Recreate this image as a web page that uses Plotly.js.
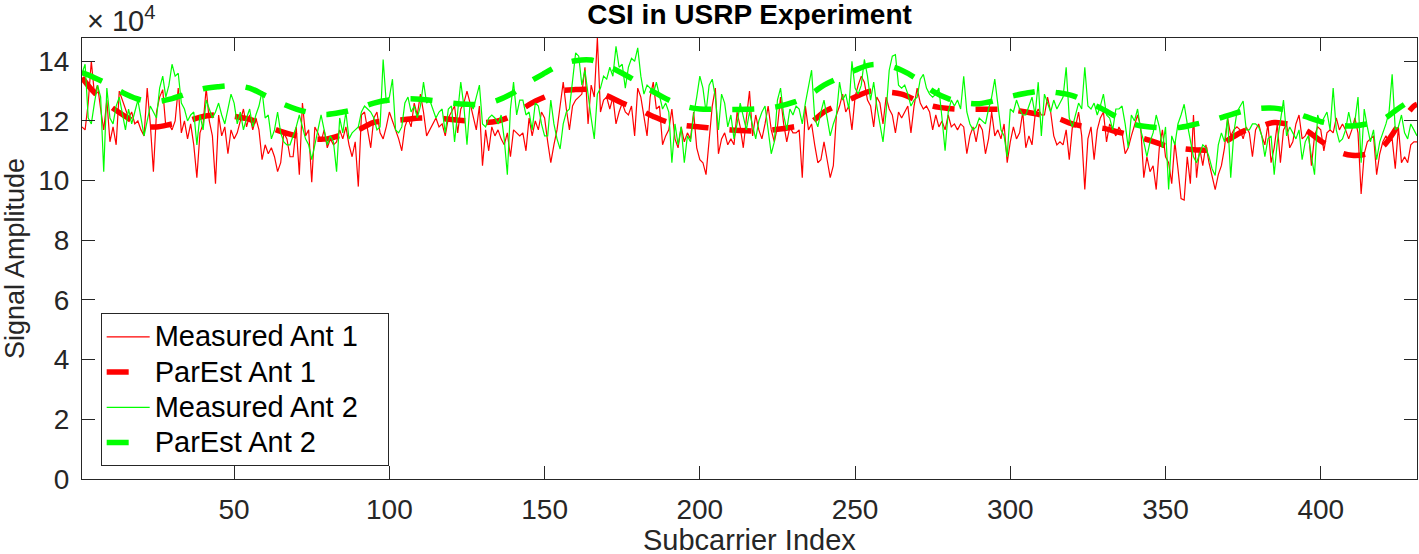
<!DOCTYPE html>
<html>
<head>
<meta charset="utf-8">
<script src="https://cdn.plot.ly/plotly-3.0.1.min.js"></script>
<style>html,body{margin:0;padding:0;background:#fff;}#chart{width:1419px;height:554px;}</style>
</head>
<body>
<div id="chart"></div>
<script>
// Signal amplitudes in units of 1e4 (axis shows x10^4)
const measuredAnt1 = [
11.8,11.7,12.6,14.0,12.9,13.2,12.4,11.7,12.7,11.3,
11.8,11.2,13.0,12.7,12.4,12.1,12.3,11.9,12.0,11.7,
11.5,13.1,11.9,10.3,12.3,12.8,13.05,11.8,11.9,11.7,
12.0,13.1,11.6,12.0,11.4,11.9,11.2,10.1,11.6,11.9,
13.1,12.0,11.5,9.9,12.2,11.5,11.8,10.9,11.7,11.4,
11.6,12.05,12.4,11.8,12.2,11.7,12.1,11.7,10.7,11.2,
10.9,11.1,10.8,10.3,10.6,11.6,11.4,10.8,10.8,11.8,
10.2,12.6,11.5,11.7,9.95,11.8,11.6,11.3,11.7,11.1,
11.4,11.2,11.3,11.7,11.4,11.8,11.2,10.8,11.3,9.8,
12.2,12.3,11.7,11.1,12.1,12.3,11.6,11.4,11.8,12.3,
12.0,11.7,11.4,11.0,11.8,12.1,11.8,12.6,12.2,12.9,
12.3,11.5,11.7,11.9,12.1,11.8,11.9,11.5,12.1,12.3,
12.5,11.6,12.4,12.6,13.0,12.6,12.1,11.7,12.5,10.5,
11.7,11.0,11.8,11.5,11.7,11.4,11.2,11.6,10.8,11.7,
11.6,11.5,11.6,11.0,12.1,11.5,12.0,11.7,12.3,12.1,
11.3,10.6,11.2,11.7,12.5,13.3,12.4,11.7,12.5,12.7,
12.8,12.9,13.8,11.9,13.2,12.8,14.78,12.3,12.7,12.8,
12.4,12.8,11.9,12.3,12.6,12.3,12.2,12.5,11.5,13.1,
12.8,12.2,11.5,12.8,13.3,12.4,12.5,11.2,11.5,11.7,
12.4,11.4,11.1,11.8,11.3,11.6,11.4,12.3,11.1,10.7,
10.6,10.2,11.4,12.5,13.1,10.9,11.4,11.6,11.2,11.4,
11.2,12.3,11.8,11.1,12.1,13.0,11.5,12.2,11.7,11.4,
11.9,12.5,11.7,11.3,11.8,12.8,11.9,11.3,11.8,11.6,
11.6,11.7,10.1,12.5,11.7,11.9,11.2,10.6,10.7,11.3,
10.7,10.1,10.5,12.2,12.5,12.9,12.3,12.5,11.7,12.8,
13.2,13.5,13.3,12.7,12.5,11.8,12.8,12.6,11.9,12.8,
12.4,12.2,11.6,12.3,12.1,12.3,12.5,11.6,12.5,13.1,
12.6,12.4,12.5,12.3,11.7,12.2,11.8,12.0,11.7,12.2,
11.8,11.9,11.7,11.9,11.8,10.9,11.5,11.8,11.3,11.9,
11.7,10.9,11.4,12.3,11.5,11.7,11.4,11.9,10.6,11.3,
11.8,11.4,11.6,12.3,11.1,11.5,11.2,12.2,12.4,12.2,
12.2,12.8,12.3,11.5,11.2,11.3,11.2,11.7,10.7,11.8,
11.8,12.3,11.5,9.7,11.4,11.8,10.7,11.7,12.1,12.3,
11.3,11.9,11.7,11.5,11.8,11.6,10.9,11.1,11.5,11.9,
12.2,11.8,10.1,10.8,10.3,10.5,9.7,11.1,11.7,10.8,
10.6,9.9,11.3,10.4,9.4,9.35,10.8,9.9,12.2,10.1,
11.1,10.5,11.2,10.6,10.2,9.7,10.2,10.5,11.1,12.1,
11.5,11.7,11.8,11.7,11.4,11.8,11.6,10.8,11.7,11.9,
11.5,11.2,11.9,10.6,11.1,11.9,10.6,11.7,11.9,11.1,
11.3,11.9,12.2,11.4,11.5,11.7,10.5,11.5,11.8,11.7,
11.0,11.6,11.7,11.6,12.1,11.7,11.9,11.7,11.4,11.7,
12.1,11.6,9.55,10.9,11.3,11.4,11.5,10.2,10.9,11.3,
11.5,11.3,11.4,10.4,11.8,10.6,10.8,10.6,11.2,11.3,11.3
];
const measuredAnt2 = [
13.6,13.9,12.1,11.9,12.6,13.2,12.8,10.3,13.1,12.1,
11.9,12.5,12.8,12.2,11.7,12.4,11.9,12.3,12.7,12.1,
11.5,12.0,12.5,12.3,12.1,13.1,13.5,12.8,13.2,13.9,
13.5,13.6,12.6,12.4,12.0,12.2,12.3,11.2,12.2,11.7,
12.7,12.4,12.1,12.3,12.6,12.2,11.9,12.4,12.9,12.6,
11.9,12.3,11.7,12.1,12.4,11.8,12.2,12.5,13.0,12.1,
12.2,11.4,11.7,12.3,11.6,11.3,11.2,11.2,11.5,11.8,
12.2,11.8,11.4,11.2,10.7,11.2,11.7,12.2,11.7,11.2,
11.5,11.3,10.3,12.1,11.6,12.3,11.4,11.6,11.7,11.8,
12.3,12.5,12.4,12.3,12.1,11.7,11.8,14.06,12.6,12.8,
13.4,11.7,11.6,11.8,12.6,12.8,12.3,12.5,12.1,12.5,
13.3,12.6,12.7,12.4,12.1,12.3,12.4,11.6,12.4,12.5,
11.3,12.3,13.3,12.5,11.2,12.6,12.4,12.8,13.2,11.9,
11.8,12.1,12.2,12.1,11.9,12.2,11.4,10.2,12.4,13.3,
12.2,12.7,12.7,12.2,12.3,11.7,12.6,12.5,11.9,11.5,
11.5,12.7,11.9,11.4,11.06,11.9,12.3,12.4,13.4,14.28,
14.17,13.2,13.7,12.8,12.1,11.4,12.9,13.1,13.5,13.4,
13.8,13.5,14.5,13.8,13.9,13.1,13.8,14.1,14.0,14.45,
13.5,12.9,13.2,13.1,12.9,13.3,12.8,12.4,12.6,12.3,
10.6,11.9,11.2,11.8,10.6,11.5,11.3,12.2,12.8,13.5,
13.1,12.3,13.2,13.4,12.8,11.7,12.9,12.6,11.8,12.2,
11.4,11.9,12.6,12.2,11.7,12.3,11.9,11.4,12.0,12.3,
12.5,11.7,10.9,11.3,12.7,13.1,12.2,11.7,12.4,12.2,
12.5,12.4,11.9,12.6,13.1,13.7,12.1,11.8,12.3,12.7,
12.1,11.5,11.9,12.2,13.3,12.7,12.9,12.4,14.0,13.1,
12.9,13.2,14.06,13.5,12.7,13.3,12.5,11.9,11.3,12.3,
13.7,14.17,14.22,13.2,13.1,13.2,12.9,12.5,12.7,12.8,
13.4,13.56,13.1,12.9,12.8,12.9,13.1,12.1,11.0,12.3,
12.7,12.5,12.7,12.4,13.5,12.3,11.9,11.7,11.8,12.1,
12.0,11.9,12.4,12.8,13.4,12.6,11.7,11.5,10.8,12.4,
12.3,12.7,12.4,12.2,12.2,12.5,12.8,12.2,13.3,11.5,
12.9,12.6,12.3,12.7,12.4,12.6,12.8,13.8,12.1,11.8,
12.2,12.6,12.4,13.8,12.5,12.4,12.6,12.2,12.5,12.9,
12.2,12.1,11.7,12.4,12.4,12.5,11.9,11.1,12.2,12.0,
12.4,11.7,11.3,10.8,11.3,11.6,12.2,11.8,11.1,11.8,
9.7,11.5,11.2,11.9,12.2,12.56,11.9,11.4,10.8,10.6,
10.9,11.2,11.1,10.8,10.4,10.17,11.2,11.6,11.3,12.1,
10.1,11.6,12.3,12.5,12.67,11.7,11.7,11.9,11.9,11.8,
11.5,10.8,11.4,11.5,10.2,11.3,12.0,12.7,11.5,11.8,
11.6,11.4,11.7,10.7,11.3,11.5,10.8,10.2,12.2,11.9,
12.1,12.3,11.7,13.1,11.7,11.3,11.4,11.7,12.3,11.8,
12.0,12.8,10.6,12.4,11.8,11.3,11.7,10.7,11.3,11.6,
11.9,12.3,13.56,11.7,11.8,12.2,11.6,11.4,11.9,11.7,11.5
];
const subcarrierIndex = measuredAnt1.map((_, i) => i + 1);

const parEstIndex = [1,5,10,15,20,25,30,35,40,45,50,55,60,65,70,75,80,85,90,95,100,105,110,115,120,125,130,135,140,145,150,155,160,165,170,175,180,185,190,195,200,205,210,215,220,225,230,235,240,245,250,255,260,265,270,275,280,285,290,295,300,305,310,315,320,325,330,335,340,345,350,355,360,365,370,375,380,385,390,395,400,405,410,415,420,425,430,431];
const parEstAnt1 = [13.45,12.95,12.5,12.15,11.85,11.8,11.9,12.0,12.15,12.2,12.15,12.05,11.85,11.65,11.5,11.4,11.4,11.55,11.7,11.95,12.0,12.05,12.1,12.1,12.05,12.0,11.95,12.0,12.2,12.55,12.8,13.0,13.05,13.05,12.85,12.6,12.4,12.15,11.95,11.85,11.8,11.75,11.7,11.67,11.67,11.72,11.8,11.9,12.3,12.55,12.8,13.0,12.97,12.9,12.68,12.5,12.42,12.39,12.39,12.39,12.38,12.3,12.2,12.1,11.9,11.8,11.75,11.62,11.5,11.35,11.17,11.08,11.03,11.05,11.35,11.65,11.8,11.95,11.88,11.7,11.33,11.0,10.85,10.9,11.15,11.85,12.5,12.56];
const parEstAnt2 = [13.62,13.45,13.2,12.9,12.7,12.65,12.75,12.92,13.08,13.15,13.18,13.1,12.85,12.6,12.4,12.27,12.22,12.3,12.42,12.6,12.7,12.74,12.73,12.67,12.6,12.56,12.56,12.7,12.95,13.3,13.6,13.88,14.02,14.04,13.85,13.6,13.3,12.98,12.7,12.5,12.4,12.39,12.38,12.39,12.42,12.48,12.62,12.85,13.2,13.45,13.7,13.88,13.86,13.7,13.4,13.0,12.75,12.62,12.58,12.68,12.82,12.93,13.0,12.95,12.85,12.62,12.38,12.1,11.88,11.8,11.77,11.79,11.9,12.02,12.18,12.33,12.42,12.43,12.33,12.15,11.98,11.87,11.83,11.9,12.05,12.42,12.75,12.8];

const xTicks = [50,100,150,200,250,300,350,400];
const yTicks = [0,2,4,6,8,10,12,14];
const seriesNames = ['Measured Ant 1','ParEst Ant 1','Measured Ant 2','ParEst Ant 2'];

const FONT = '"Liberation Sans", Arial, Helvetica, sans-serif';
const AX = '#262626';
// legend label: larger glyphs, compact rows; trailing spaces give the box its right padding
const legendLabel = s => '<span style="font-size:29px">' + s + '\u00a0\u00a0\u00a0</span>';

const traces = [
  {x: subcarrierIndex, y: measuredAnt1, name: legendLabel(seriesNames[0]), type: 'scatter', mode: 'lines', line: {color: '#ff0000', width: 1.2}},
  {x: parEstIndex, y: parEstAnt1, name: legendLabel(seriesNames[1]), type: 'scatter', mode: 'lines', line: {color: '#ff0000', width: 5.5, dash: '22px,21px', shape: 'spline'}},
  {x: subcarrierIndex, y: measuredAnt2, name: legendLabel(seriesNames[2]), type: 'scatter', mode: 'lines', line: {color: '#00ff00', width: 1.2}},
  {x: parEstIndex, y: parEstAnt2, name: legendLabel(seriesNames[3]), type: 'scatter', mode: 'lines', line: {color: '#00ff00', width: 5.5, dash: '22px,21px', shape: 'spline'}}
];

const layout = {
  width: 1419, height: 554,
  margin: {l: 82, r: 2, t: 38, b: 75, pad: 0},
  paper_bgcolor: '#ffffff', plot_bgcolor: '#ffffff',
  font: {family: FONT, size: 28, color: AX},
  showlegend: true,
  title: {text: '<b>CSI in USRP Experiment</b>', x: 0.5, xref: 'paper', xanchor: 'center', y: 1 - 14/554, yref: 'container', yanchor: 'middle', font: {family: FONT, size: 28, color: '#000000'}},
  xaxis: {
    range: [1, 431], tickmode: 'array', tickvals: xTicks, ticktext: xTicks.map(String),
    ticks: 'inside', ticklen: 13, tickwidth: 1, tickcolor: AX,
    showline: true, linecolor: AX, linewidth: 1, mirror: 'ticks',
    showgrid: false, zeroline: false, ticklabelstandoff: 5,
    tickfont: {family: FONT, size: 28, color: AX},
    automargin: false
  },
  yaxis: {
    range: [0, 14.78], tickmode: 'array', tickvals: yTicks, ticktext: yTicks.map(String),
    ticks: 'inside', ticklen: 13, tickwidth: 1, tickcolor: AX,
    showline: true, linecolor: AX, linewidth: 1, mirror: 'ticks',
    showgrid: false, zeroline: false, ticklabelstandoff: 6,
    tickfont: {family: FONT, size: 28, color: AX},
    title: {text: 'Signal Amplitude', font: {family: FONT, size: 27, color: AX}},
    automargin: false
  },
  legend: {
    x: 0.014, y: 0.376, xanchor: 'left', yanchor: 'top',
    bgcolor: '#ffffff', bordercolor: AX, borderwidth: 1,
    font: {family: FONT, size: 24.8, color: '#000000'},
    itemwidth: 43, tracegroupgap: 0
  },
  annotations: [
    {
      text: '\u00d7 10<sup>4</sup>', xref: 'paper', yref: 'paper',
      x: 0.002, y: 1 + 19/441, xanchor: 'left', yanchor: 'middle', showarrow: false,
      font: {family: FONT, size: 29, color: AX}
    },
    {
      text: 'Subcarrier Index', xref: 'paper', yref: 'paper',
      x: 0.5, y: -(540 - 479) / 441, xanchor: 'center', yanchor: 'middle', showarrow: false,
      font: {family: FONT, size: 29, color: AX}
    }
  ]
};

Plotly.newPlot('chart', traces, layout, {staticPlot: true, displayModeBar: false});
</script>
</body>
</html>
